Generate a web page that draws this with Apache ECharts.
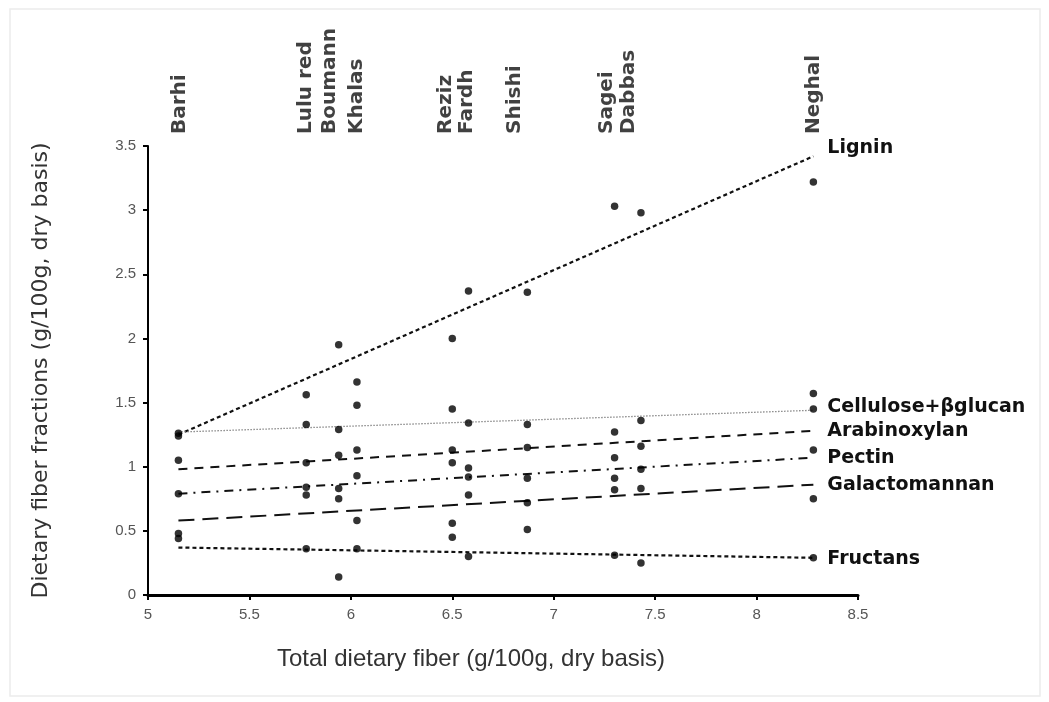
<!DOCTYPE html>
<html>
<head>
<meta charset="utf-8">
<script src="https://cdn.jsdelivr.net/npm/echarts@6/dist/echarts.min.js"></script>
<style>
html,body{margin:0;padding:0;background:#fff;}
#chart{width:1049px;height:702px;}
</style>
</head>
<body>
<div id="chart"></div>
<script>
// ---- data ----
const cultivars = ['Barhi','Lulu red','Boumann','Khalas','Reziz','Fardh','Shishi','Sagei','Dabbas','Neghal'];
const totalFiber = [5.15, 5.78, 5.94, 6.03, 6.50, 6.58, 6.87, 7.30, 7.43, 8.28];

const lignin        = [1.24, 1.56, 1.95, 1.66, 2.00, 2.37, 2.36, 3.03, 2.98, 3.22];
const cellulose     = [1.26, 1.33, 1.29, 1.48, 1.45, 1.34, 1.33, 1.27, 1.36, 1.45];
const arabinoxylan  = [1.05, 1.03, 1.09, 1.13, 1.13, 0.99, 1.15, 1.07, 1.16, 1.57];
const pectin        = [0.79, 0.84, 0.83, 0.93, 1.03, 0.92, 0.91, 0.91, 0.98, 1.13];
const galactomannan = [0.48, 0.78, 0.75, 0.58, 0.56, 0.78, 0.72, 0.82, 0.83, 0.75];
const fructans      = [0.44, 0.36, 0.14, 0.36, 0.45, 0.30, 0.51, 0.31, 0.25, 0.29];

// trend line endpoints (at Barhi and Neghal total fiber)
const trendX             = [5.15, 8.28];
const ligninTrend        = [1.25, 3.42];
const celluloseTrend     = [1.27, 1.44];
const arabinoxylanTrend  = [0.98, 1.28];
const pectinTrend        = [0.79, 1.07];
const galactomannanTrend = [0.58, 0.86];
const fructansTrend      = [0.37, 0.29];

const xTicks = [5, 5.5, 6, 6.5, 7, 7.5, 8, 8.5];
const yTicks = [0, 0.5, 1, 1.5, 2, 2.5, 3, 3.5];

// layout: horizontal pixel nudges of the cultivar names (as placed in the original figure)
const nameNudge = [1, 0, -9, 0, -6, -2, -13, -8, -12, 0];

const fractions = [
  {name:'Lignin', values:lignin, trend:ligninTrend, dash:[4,3], width:2.2, color:'#111', labelOffset:[0,-8]},
  {name:'Cellulose+βglucan', values:cellulose, trend:celluloseTrend, dash:[1.5,1.5], width:1.3, color:'#888', labelOffset:[0,-3]},
  {name:'Arabinoxylan', values:arabinoxylan, trend:arabinoxylanTrend, dash:[9,7], width:2, color:'#111', labelOffset:[0,0]},
  {name:'Pectin', values:pectin, trend:pectinTrend, dash:[9,6,2,6], width:2, color:'#111', labelOffset:[0,0]},
  {name:'Galactomannan', values:galactomannan, trend:galactomannanTrend, dash:[16,8], width:2, color:'#111', labelOffset:[0,0]},
  {name:'Fructans', values:fructans, trend:fructansTrend, dash:[4,3], width:2.2, color:'#111', labelOffset:[0,1]}
];

const series = [];
fractions.forEach(f => {
  series.push({
    name: f.name + ' points',
    type: 'scatter',
    symbol: 'circle',
    symbolSize: 7.5,
    itemStyle: {color:'#000'},
    data: totalFiber.map((x,i) => [x, f.values[i]]),
    z: 5
  });
  series.push({
    name: f.name,
    type: 'line',
    symbol: 'none',
    data: trendX.map((x,i) => [x, f.trend[i]]),
    lineStyle: {color: f.color, width: f.width, type: f.dash},
    endLabel: {
      show: true,
      formatter: '{a}',
      distance: 14,
      offset: f.labelOffset,
      color: '#111',
      fontFamily: 'DejaVu Sans',
      fontWeight: 'bold',
      fontSize: 19
    },
    z: 3
  });
});

// cultivar names above the plot (label offset is in the rotated frame: [along, across])
series.push({
  name: 'cultivars',
  type: 'scatter',
  symbolSize: 0,
  silent: true,
  data: totalFiber.map((x,i) => ({
    value:[x, yTicks[yTicks.length-1]],
    name: cultivars[i],
    label: {offset:[0, nameNudge[i]]}
  })),
  label: {
    show: true,
    formatter: '{b}',
    position: 'top',
    distance: 12,
    rotate: 90,
    align: 'left',
    verticalAlign: 'middle',
    color: '#111',
    fontFamily: 'DejaVu Sans',
    fontWeight: 'bold',
    fontSize: 20
  },
  clip: false
});

const chart = echarts.init(document.getElementById('chart'), null, {renderer:'canvas'});
chart.setOption({
  animation: false,
  backgroundColor: '#fff',
  grid: {left:148, right:191, top:146, bottom:107, containLabel:false},
  graphic: [{
    type:'rect', silent:true, z:-1,
    shape:{x:10, y:9, width:1030, height:687},
    style:{fill:'none', stroke:'#ececec', lineWidth:1.5}
  }],
  xAxis: {
    type: 'value',
    min: xTicks[0], max: xTicks[xTicks.length-1], interval: 0.5,
    name: 'Total dietary fiber (g/100g, dry basis)',
    nameLocation: 'middle',
    nameGap: 52,
    nameTextStyle: {fontFamily:"'Liberation Sans', Arial, sans-serif", fontSize:24, color:'#333', padding:[0,64,0,0]},
    axisLine: {show:true, lineStyle:{color:'#000', width:3}},
    axisTick: {show:true, length:5, lineStyle:{color:'#000', width:2}},
    axisLabel: {fontFamily:"'Liberation Sans', Arial, sans-serif", fontSize:15, color:'#555', margin:12},
    splitLine: {show:false}
  },
  yAxis: {
    type: 'value',
    min: yTicks[0], max: yTicks[yTicks.length-1], interval: 0.5,
    name: 'Dietary fiber fractions (g/100g, dry basis)',
    nameLocation: 'middle',
    nameGap: 96,
    nameTextStyle: {fontFamily:"'DejaVu Sans', sans-serif", fontSize:22, color:'#333'},
    axisLine: {show:true, lineStyle:{color:'#000', width:2}},
    axisTick: {show:true, length:5, lineStyle:{color:'#000', width:2}},
    axisLabel: {fontFamily:"'Liberation Sans', Arial, sans-serif", fontSize:15, color:'#555', margin:12},
    splitLine: {show:false}
  },
  series: series
});
</script>
</body>
</html>
